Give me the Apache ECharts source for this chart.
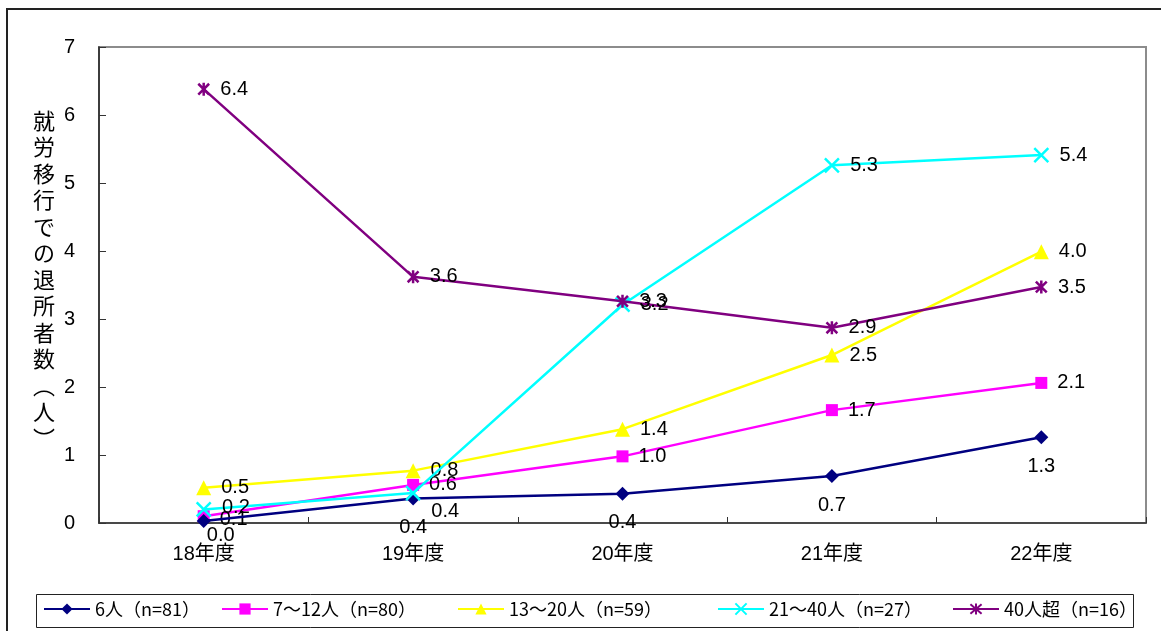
<!DOCTYPE html>
<html>
<head>
<meta charset="utf-8">
<script src="https://cdn.jsdelivr.net/npm/echarts@6/dist/echarts.min.js"></script>
<style>
  html, body { margin: 0; padding: 0; background: #fff; }
  #chart { width: 1161px; height: 631px; }
</style>
</head>
<body>
<div id="chart"></div>
<script>
// 年度
const categories = ['18年度', '19年度', '20年度', '21年度', '22年度'];

// 事業所規模別の就労移行での退所者数（人）
const seriesNames = ['6人（n=81）', '7～12人（n=80）', '13～20人（n=59）', '21～40人（n=27）', '40人超（n=16）'];
const small6 = [0.03, 0.36, 0.43, 0.69, 1.26];
const size7to12 = [0.10, 0.56, 0.98, 1.66, 2.06];
const size13to20 = [0.52, 0.77, 1.38, 2.47, 3.99];
const size21to40 = [0.20, 0.44, 3.21, 5.26, 5.41];
const over40 = [6.38, 3.62, 3.26, 2.87, 3.47];

const yTicks = [0, 1, 2, 3, 4, 5, 6, 7];
const yTitle = '就労移行での退所者数︵人︶';

const FONT = '"Liberation Sans", "Noto Sans CJK JP", sans-serif';
const LABEL_SIZE = 20;

// left edge of each legend entry inside the legend frame
const legendLefts = [43, 221, 457, 717, 952];

const xPath = 'path://M0,0L10,10M10,0L0,10';
const starPath = 'path://M0,0L10,10M10,0L0,10M5,-1L5,11';

function fmt(p) { return p.value.toFixed(1); }

function labelCfg(extra) {
  return Object.assign({
    show: true,
    position: 'right',
    distance: 10,
    color: '#000',
    fontSize: LABEL_SIZE,
    fontFamily: FONT,
    formatter: fmt
  }, extra || {});
}

function withOffsets(values, offsets) {
  return values.map((v, i) => offsets[i] ? { value: v, label: { offset: offsets[i] } } : v);
}

const legends = seriesNames.map((name, i) => ({
  left: legendLefts[i], top: 600,
  padding: 0,
  itemWidth: 46, itemHeight: 14, itemGap: 0,
  textStyle: { color: '#000', fontSize: 18, fontFamily: '"Noto Sans CJK JP", sans-serif' },
  data: [name]
}));

const chart = echarts.init(document.getElementById('chart'), null, { renderer: 'canvas' });

const option = {
  animation: false,
  backgroundColor: '#fff',
  grid: {
    left: 99, right: 15, top: 47, bottom: 108,
    show: true, borderColor: '#8c8c8c', borderWidth: 2, backgroundColor: 'transparent'
  },
  xAxis: {
    type: 'category',
    data: categories,
    boundaryGap: true,
    axisLine: { lineStyle: { color: '#333', width: 1.5 } },
    axisTick: { show: true, inside: true, length: 6, lineStyle: { color: '#333' } },
    axisLabel: { color: '#000', fontSize: LABEL_SIZE, fontFamily: FONT, margin: 21 },
    splitLine: { show: false }
  },
  yAxis: {
    type: 'value',
    min: yTicks[0], max: yTicks[yTicks.length - 1], interval: 1,
    axisLine: { show: true, lineStyle: { color: '#222', width: 1.5 } },
    axisTick: { show: true, inside: true, length: 7, lineStyle: { color: '#333' } },
    axisLabel: { color: '#000', fontSize: LABEL_SIZE, fontFamily: FONT, margin: 24 },
    splitLine: { show: false }
  },
  legend: legends,
  graphic: [
    {
      type: 'rect', silent: true,
      shape: { x: 7, y: 9, width: 1170, height: 640 },
      style: { fill: 'none', stroke: '#222', lineWidth: 2 }
    },
    {
      type: 'rect', silent: true,
      shape: { x: 36.5, y: 594.5, width: 1097, height: 33 },
      style: { fill: 'none', stroke: '#222', lineWidth: 1 }
    },
    {
      type: 'text', silent: true,
      left: 33, top: 107,
      style: {
        text: yTitle.split('').join('\n'),
        fill: '#000',
        font: '22px "Noto Sans CJK JP", sans-serif',
        lineHeight: 26.5,
        textAlign: 'center'
      }
    }
  ],
  series: [
    {
      name: seriesNames[0], type: 'line',
      data: withOffsets(small6, [[17, -14], null, null, null, null]),
      symbol: 'diamond', symbolSize: 14,
      lineStyle: { color: '#000080', width: 2.5 },
      itemStyle: { color: '#000080' },
      label: labelCfg({ position: 'bottom', distance: 12 }),
      z: 5
    },
    {
      name: seriesNames[1], type: 'line',
      data: withOffsets(size7to12, [[0, 3], null, null, null, null]),
      symbol: 'rect', symbolSize: 12,
      lineStyle: { color: '#ff00ff', width: 2.5 },
      itemStyle: { color: '#ff00ff' },
      label: labelCfg(),
      z: 4
    },
    {
      name: seriesNames[2], type: 'line',
      data: size13to20,
      symbol: 'triangle', symbolSize: 15,
      lineStyle: { color: '#ffff00', width: 2.5 },
      itemStyle: { color: '#ffff00' },
      label: labelCfg(),
      z: 3
    },
    {
      name: seriesNames[3], type: 'line',
      data: withOffsets(size21to40, [[0, -2], [0, 18], null, null, null]),
      symbol: xPath, symbolSize: 14, symbolKeepAspect: true,
      lineStyle: { color: '#00ffff', width: 2.5 },
      itemStyle: { color: '#00ffff', borderColor: '#00ffff', borderWidth: 2.5 },
      label: labelCfg(),
      z: 6
    },
    {
      name: seriesNames[4], type: 'line',
      data: over40,
      symbol: starPath, symbolSize: 13, symbolKeepAspect: true,
      lineStyle: { color: '#800080', width: 2.5 },
      itemStyle: { color: '#800080', borderColor: '#800080', borderWidth: 2.5 },
      label: labelCfg(),
      z: 7
    }
  ]
};

chart.setOption(option);
</script>
</body>
</html>
